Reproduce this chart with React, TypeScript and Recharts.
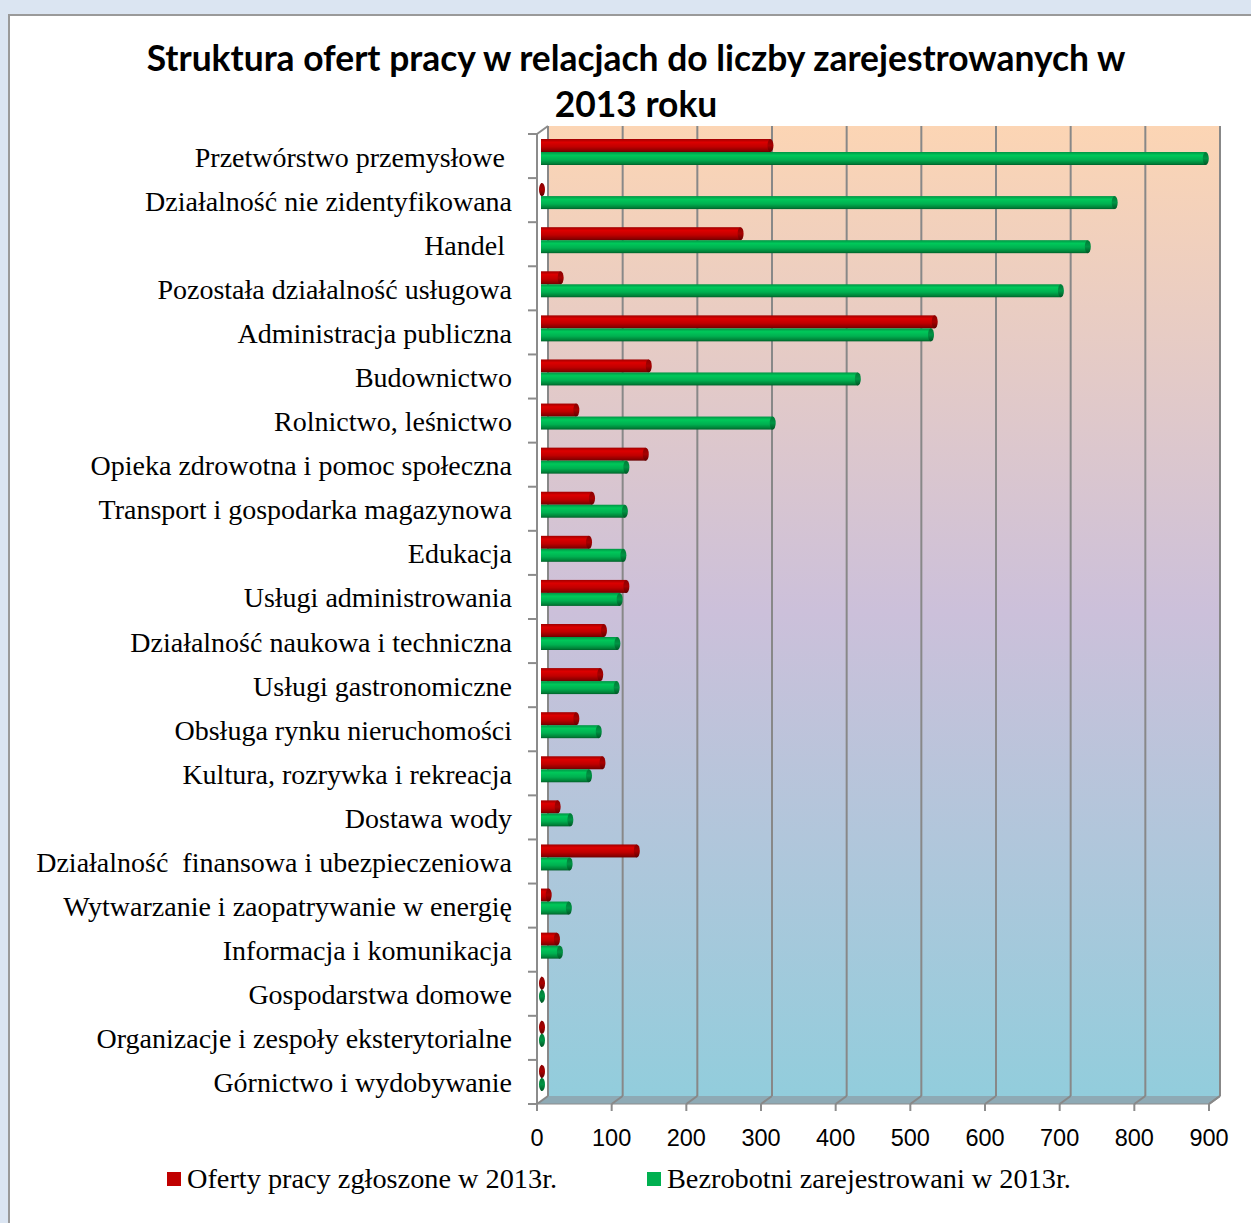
import { BarChart, Bar, XAxis, YAxis, CartesianGrid, Legend, ReferenceArea } from 'recharts';

const categories = [
  'Przetwórstwo przemysłowe\u00a0',
  'Działalność nie zidentyfikowana',
  'Handel\u00a0',
  'Pozostała działalność usługowa',
  'Administracja publiczna',
  'Budownictwo',
  'Rolnictwo, leśnictwo',
  'Opieka zdrowotna i pomoc społeczna',
  'Transport i gospodarka magazynowa',
  'Edukacja',
  'Usługi administrowania',
  'Działalność naukowa i techniczna',
  'Usługi gastronomiczne',
  'Obsługa rynku nieruchomości',
  'Kultura, rozrywka i rekreacja',
  'Dostawa wody',
  'Działalność  finansowa i ubezpieczeniowa',
  'Wytwarzanie i zaopatrywanie w energię',
  'Informacja i komunikacja',
  'Gospodarstwa domowe',
  'Organizacje i zespoły eksterytorialne',
  'Górnictwo i wydobywanie',
];

// Oferty pracy zgłoszone w 2013r.
const offers = [310, 2, 270, 29, 530, 147, 50, 143, 71, 67, 117, 87, 82, 50, 85, 25, 131, 13, 24, 1, 1, 1];
// Bezrobotni zarejestrowani w 2013r.
const registered = [893, 771, 735, 699, 525, 427, 313, 117, 115, 113, 108, 105, 104, 80, 67, 42, 41, 40, 28, 1, 1, 1];

const xTicks = [0, 100, 200, 300, 400, 500, 600, 700, 800, 900];
const seriesNames = ['Oferty pracy zgłoszone w 2013r.', 'Bezrobotni zarejestrowani w 2013r.'];
const titleLines = ['Struktura ofert pracy w relacjach do liczby zarejestrowanych w', '2013 roku'];

const chartData = categories.map((name, i) => ({
  name,
  offers: offers[i],
  registered: registered[i],
}));

const SERIF = '"Liberation Serif", "DejaVu Serif", serif';
const SANS = '"Liberation Sans", Arial, sans-serif';

// depth shift for the 3D look
const DX = 7;
const DY = -8;

function Cylinder(props: any) {
  const { x, y, width, height, grad, cap } = props;
  const top = y - 4;
  const w = Math.max((width || 0) - 2, 1);
  const r = height / 2;
  return (
    <g>
      <rect x={x} y={top} width={w} height={height} fill={`url(#${grad})`} />
      <ellipse cx={x + w} cy={top + r} rx={3} ry={r} fill={`url(#${cap})`} />
    </g>
  );
}

function Box3D(props: any) {
  const { x, y, width, height } = props;
  const bottom = y + height;
  const n = categories.length;
  const band = height / n;
  const ax = x - 4;
  const ticks = [];
  for (let i = 0; i <= n; i++) {
    const ty = y + i * band;
    ticks.push(<line key={i} x1={ax - 9} y1={ty} x2={ax} y2={ty} stroke="#8c8c8c" strokeWidth={2} />);
  }
  return (
    <g>
      <rect x={x + DX} y={y + DY} width={width} height={height} fill="url(#wall)" />
      <polygon
        points={`${ax},${y} ${x + DX},${y + DY} ${x + DX},${bottom + DY} ${ax},${bottom}`}
        fill="#ffffff"
      />
      <polygon
        points={`${ax},${bottom} ${x + DX},${bottom + DY} ${x + width + DX},${bottom + DY} ${x + width - 4},${bottom}`}
        fill="#8eaab5"
      />
      <line x1={x + width + DX} y1={y + DY} x2={x + width + DX} y2={bottom + DY} stroke="#8c8c8c" strokeWidth={2} />
      <line x1={x + width + DX} y1={bottom + DY} x2={x + width - 4} y2={bottom} stroke="#8c8c8c" strokeWidth={2} />
      <line x1={ax} y1={bottom} x2={x + width - 4} y2={bottom} stroke="#8c8c8c" strokeWidth={1} />
      <line x1={ax} y1={y} x2={ax} y2={bottom} stroke="#8c8c8c" strokeWidth={2} />
      <line x1={ax} y1={y} x2={x + DX} y2={y + DY} stroke="#8c8c8c" strokeWidth={2} />
      {ticks}
    </g>
  );
}

function GridLine(props: any) {
  const { x1, y1, y2 } = props;
  return (
    <g key={props.key}>
      <line x1={x1 + DX} y1={y1 + DY} x2={x1 + DX} y2={y2 + DY} stroke="#888888" strokeWidth={2} />
      <line x1={x1 + DX} y1={y2 + DY} x2={x1 - 4} y2={y2} stroke="#888888" strokeWidth={2} />
    </g>
  );
}

function CategoryTick(props: any) {
  const { x, y, payload } = props;
  return (
    <text
      x={x - 21}
      y={y + 1}
      textAnchor="end"
      dominantBaseline="central"
      fontFamily={SERIF}
      fontSize={28}
      fill="#000"
      style={{ whiteSpace: 'pre' }}
    >
      {payload.value}
    </text>
  );
}

function ValueTick(props: any) {
  const { x, y, payload } = props;
  const tx = x - 4;
  return (
    <g>
      <line x1={tx} y1={y - 8} x2={tx} y2={y - 1} stroke="#8c8c8c" strokeWidth={2} />
      <text x={tx} y={y + 34} textAnchor="middle" fontFamily={SANS} fontSize={23.5} fill="#000">
        {payload.value}
      </text>
    </g>
  );
}

function LegendContent() {
  const colors = ['#c00000', '#00b050'];
  const lefts = [167, 647];
  return (
    <div style={{ position: 'relative', width: 1251, height: 32 }}>
      {seriesNames.map((name, i) => (
        <div
          key={name}
          style={{
            position: 'absolute',
            left: lefts[i],
            top: 0,
            display: 'flex',
            alignItems: 'center',
            fontFamily: SERIF,
            fontSize: 28.3,
            color: '#000',
            whiteSpace: 'nowrap',
          }}
        >
          <span style={{ display: 'inline-block', width: 14, height: 14, background: colors[i], marginRight: 6 }} />
          {name}
        </div>
      ))}
    </div>
  );
}

export default function App() {
  return (
    <div style={{ position: 'absolute', left: 0, top: 0, width: 1251, height: 1223, overflow: 'hidden', background: '#dbe5f2' }}>
      <div
        style={{
          position: 'absolute',
          left: 8,
          top: 14,
          width: 1300,
          height: 1300,
          background: '#ffffff',
          borderLeft: '2px solid #9a9a9a',
          borderTop: '2px solid #9a9a9a',
        }}
      />
      <div
        style={{
          position: 'absolute',
          left: 0,
          top: 35,
          width: 1272,
          textAlign: 'center',
          fontFamily: 'Lato, "Open Sans", sans-serif',
          fontWeight: 700,
          fontSize: 35.4,
          lineHeight: '46px',
          color: '#000',
        }}
      >
        {titleLines.map((t) => (
          <div key={t}>{t}</div>
        ))}
      </div>
      <div style={{ position: 'absolute', left: 0, top: 0 }}>
        <BarChart
          width={1251}
          height={1223}
          data={chartData}
          layout="vertical"
          margin={{ top: 134, right: 38, bottom: 79, left: 41 }}
          barSize={13}
          barGap={0}
        >
          <defs>
            <linearGradient id="wall" x1="0" y1="0" x2="0" y2="1">
              <stop offset="0%" stopColor="#fcd5b4" />
              <stop offset="50%" stopColor="#ccc0da" />
              <stop offset="100%" stopColor="#92cddc" />
            </linearGradient>
            <linearGradient id="redBody" x1="0" y1="0" x2="0" y2="1">
              <stop offset="0%" stopColor="#a00000" />
              <stop offset="25%" stopColor="#dc0000" />
              <stop offset="60%" stopColor="#c00000" />
              <stop offset="88%" stopColor="#8c0000" />
              <stop offset="100%" stopColor="#6a0000" />
            </linearGradient>
            <linearGradient id="redCap" x1="0" y1="0" x2="0" y2="1">
              <stop offset="0%" stopColor="#8a0000" />
              <stop offset="50%" stopColor="#a80000" />
              <stop offset="100%" stopColor="#600000" />
            </linearGradient>
            <linearGradient id="greenBody" x1="0" y1="0" x2="0" y2="1">
              <stop offset="0%" stopColor="#009444" />
              <stop offset="25%" stopColor="#00c85a" />
              <stop offset="60%" stopColor="#00b050" />
              <stop offset="88%" stopColor="#008238" />
              <stop offset="100%" stopColor="#00602a" />
            </linearGradient>
            <linearGradient id="greenCap" x1="0" y1="0" x2="0" y2="1">
              <stop offset="0%" stopColor="#007a36" />
              <stop offset="50%" stopColor="#009444" />
              <stop offset="100%" stopColor="#005525" />
            </linearGradient>
          </defs>
          <ReferenceArea x1={0} x2={900} shape={<Box3D />} zIndex={-200} ifOverflow="visible" />
          <CartesianGrid horizontal={false} vertical={(p: any) => <GridLine {...p} />} zIndex={-150} />
          <XAxis
            type="number"
            domain={[0, 900]}
            ticks={xTicks}
            height={40}
            axisLine={false}
            tickLine={false}
            tick={<ValueTick />}
            interval={0}
          />
          <YAxis
            type="category"
            dataKey="name"
            width={500}
            axisLine={false}
            tickLine={false}
            tick={<CategoryTick />}
            interval={0}
          />
          <Legend
            layout="horizontal"
            verticalAlign="middle"
            align="center"
            wrapperStyle={{ top: 1163, left: 0, width: 1251 }}
            content={<LegendContent />}
          />
          <Bar
            dataKey="offers"
            name={seriesNames[0]}
            fill="#c00000"
            isAnimationActive={false}
            shape={(p: any) => <Cylinder {...p} grad="redBody" cap="redCap" />}
          />
          <Bar
            dataKey="registered"
            name={seriesNames[1]}
            fill="#00b050"
            isAnimationActive={false}
            shape={(p: any) => <Cylinder {...p} grad="greenBody" cap="greenCap" />}
          />
        </BarChart>
      </div>
    </div>
  );
}
